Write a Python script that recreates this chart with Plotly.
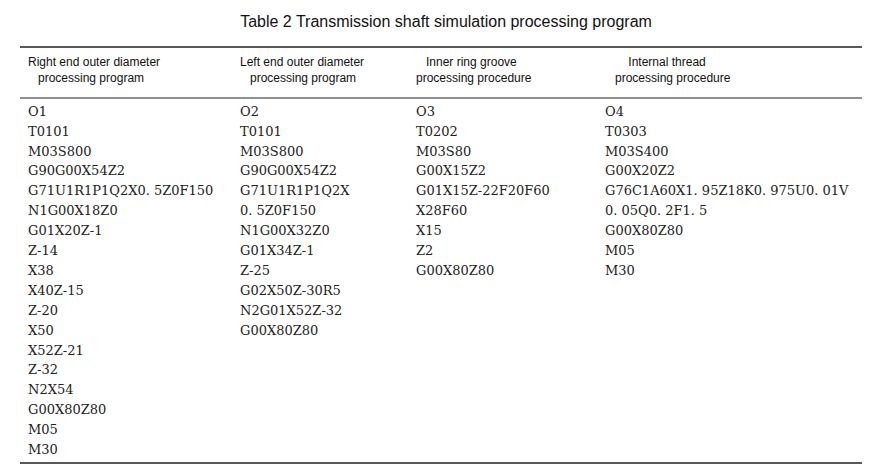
import plotly.graph_objects as go

headers = [
    "Right end outer diameter<br>   processing program",
    "Left end outer diameter<br>   processing program",
    "   Inner ring groove<br>processing procedure",
    "       Internal thread<br>   processing procedure",
]

col_right = ["O1", "T0101", "M03S800", "G90G00X54Z2", "G71U1R1P1Q2X0. 5Z0F150",
             "N1G00X18Z0", "G01X20Z-1", "Z-14", "X38", "X40Z-15", "Z-20", "X50",
             "X52Z-21", "Z-32", "N2X54", "G00X80Z80", "M05", "M30"]
col_left = ["O2", "T0101", "M03S800", "G90G00X54Z2", "G71U1R1P1Q2X", "0. 5Z0F150",
            "N1G00X32Z0", "G01X34Z-1", "Z-25", "G02X50Z-30R5", "N2G01X52Z-32", "G00X80Z80"]
col_groove = ["O3", "T0202", "M03S80", "G00X15Z2", "G01X15Z-22F20F60", "X28F60",
              "X15", "Z2", "G00X80Z80"]
col_thread = ["O4", "T0303", "M03S400", "G00X20Z2", "G76C1A60X1. 95Z18K0. 975U0. 01V",
              "0. 05Q0. 2F1. 5", "G00X80Z80", "M05", "M30"]

n = len(col_right)
cols = [c + [""] * (n - len(c)) for c in [col_right, col_left, col_groove, col_thread]]

W, H = 893, 472
off = 8  # page margin of the html body
x0, x1 = 20 - off, 862 - off
y_top, y_head, y_bot = 47 - off, 98 - off, 463 - off

fig = go.Figure(go.Table(
    domain=dict(x=[x0 / W, x1 / W], y=[(H - y_bot) / H, (H - y_top) / H]),
    columnwidth=[212, 176, 189, 265],
    header=dict(values=headers, align="left", height=51,
                line=dict(width=0, color="white"), fill_color="white",
                font=dict(family="Liberation Sans, Arial", size=12, color="#111")),
    cells=dict(values=cols, align="left", height=19.9,
               line=dict(width=0, color="white"), fill_color="white",
               font=dict(family="DejaVu Serif, Times New Roman", size=13, color="#222")),
))

for y, w in [(y_top, 1.6), (y_head, 1), (y_bot, 1.6)]:
    fig.add_shape(type="line", xref="paper", yref="paper",
                  x0=x0 / W, x1=x1 / W, y0=(H - y) / H, y1=(H - y) / H,
                  line=dict(color="#222", width=w))

fig.update_layout(
    width=W, height=H, margin=dict(l=0, r=0, t=0, b=0),
    paper_bgcolor="white",
    title=dict(text="Table 2 Transmission shaft simulation processing program",
               x=(446 - off) / W, xanchor="center", y=(H - 21 + off) / H, yanchor="middle",
               font=dict(family="Liberation Sans, Arial", size=16, color="#111")),
)

fig.write_html("out.html")
